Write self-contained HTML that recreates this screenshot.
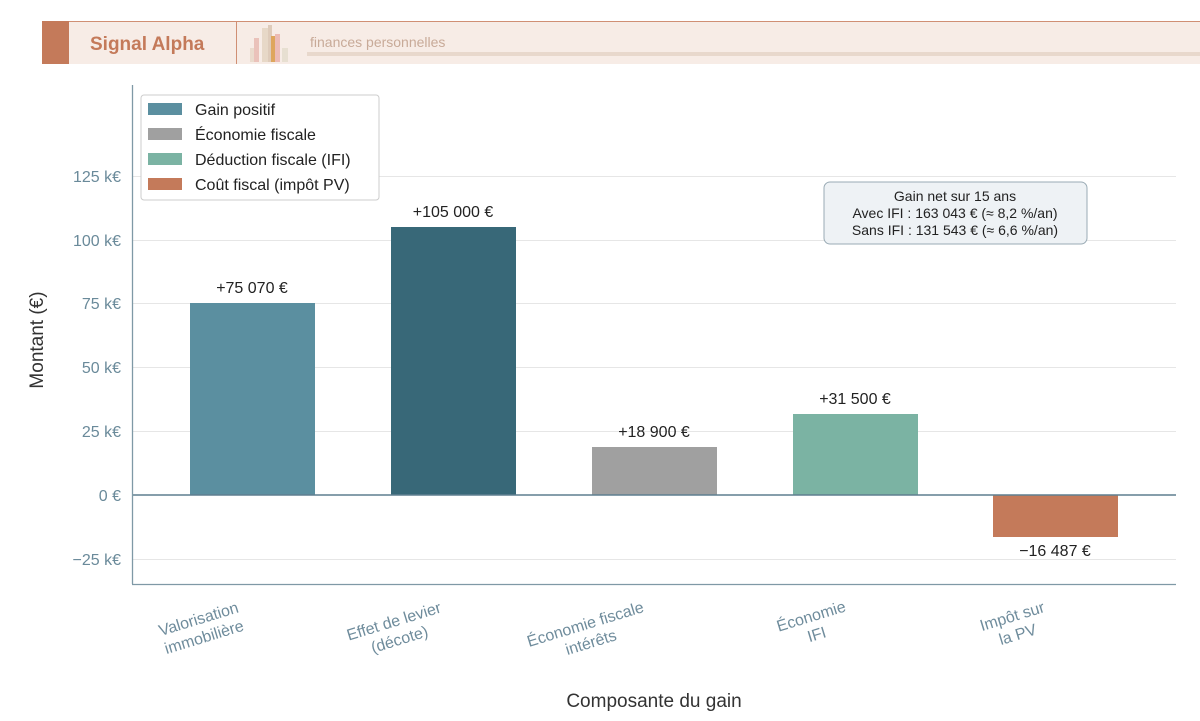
<!DOCTYPE html>
<html><head><meta charset="utf-8"><style>
body{margin:0;background:#fff;}
svg{display:block;font-family:"Liberation Sans",sans-serif;}
</style></head><body>
<svg width="1200" height="721" viewBox="0 0 1200 721" xmlns="http://www.w3.org/2000/svg">
<rect x="42" y="21" width="1158" height="43" fill="#f7ece6"/>
<line x1="42" y1="21.5" x2="1200" y2="21.5" stroke="#d08f74" stroke-width="1"/>
<rect x="42" y="21" width="27" height="43" fill="#c47a5a"/>
<line x1="236.5" y1="21" x2="236.5" y2="64" stroke="#d08f74"/>
<text x="90" y="50" font-size="19" font-weight="bold" fill="#c47a5a">Signal Alpha</text>
<g opacity="0.8">
<rect x="250" y="48" width="6" height="14" fill="#e8d8c8"/>
<rect x="254" y="38" width="5" height="24" fill="#e8b8b0"/>
<rect x="262" y="28" width="6" height="34" fill="#e4d4c0"/>
<rect x="268" y="25" width="4" height="37" fill="#d8c4b0"/>
<rect x="271" y="36" width="5" height="26" fill="#d8953c"/>
<rect x="275" y="34" width="5" height="28" fill="#eab0a8"/>
<rect x="282" y="48" width="6" height="14" fill="#e4dccc"/>
</g>
<text x="310" y="47" font-size="14" fill="#c8aa98">finances personnelles</text>
<rect x="307" y="52" width="893" height="4" fill="#e8d8cc"/>

<g stroke="#e6e6e6" stroke-width="1">
<line x1="132" y1="176.5" x2="1176" y2="176.5"/>
<line x1="132" y1="240.5" x2="1176" y2="240.5"/>
<line x1="132" y1="303.5" x2="1176" y2="303.5"/>
<line x1="132" y1="367.5" x2="1176" y2="367.5"/>
<line x1="132" y1="431.5" x2="1176" y2="431.5"/>
<line x1="132" y1="559.5" x2="1176" y2="559.5"/>
</g>
<rect x="190" y="303" width="125" height="192" fill="#5b8fa0"/>
<rect x="391" y="227" width="125" height="268" fill="#386878"/>
<rect x="592" y="447" width="125" height="48" fill="#a0a0a0"/>
<rect x="793" y="414" width="125" height="81" fill="#7bb3a3"/>
<rect x="993" y="495" width="125" height="42" fill="#c47a5a"/>
<line x1="132" y1="495" x2="1176" y2="495" stroke="#5f7f8f" stroke-width="1.5"/>
<line x1="132.5" y1="85" x2="132.5" y2="584" stroke="#7f99a6" stroke-width="1.3"/>
<line x1="132" y1="584.5" x2="1176" y2="584.5" stroke="#7f99a6" stroke-width="1.3"/>
<g font-size="16" fill="#6a8a9a" text-anchor="end">
<text x="121" y="182">125 k€</text>
<text x="121" y="246">100 k€</text>
<text x="121" y="309">75 k€</text>
<text x="121" y="373">50 k€</text>
<text x="121" y="437">25 k€</text>
<text x="121" y="501">0 €</text>
<text x="121" y="565">−25 k€</text>
</g>
<g font-size="16" fill="#222" text-anchor="middle">
<text x="252" y="293">+75 070 €</text>
<text x="453" y="217">+105 000 €</text>
<text x="654" y="437">+18 900 €</text>
<text x="855" y="404">+31 500 €</text>
<text x="1055" y="556">−16 487 €</text>
</g>
<g font-size="16" fill="#6f8c9c" text-anchor="middle">
<g transform="translate(246,610) rotate(-17)"><text x="-48" y="0">Valorisation</text><text x="-48" y="19">immobilière</text></g>
<g transform="translate(449,610) rotate(-17)"><text x="-56" y="0">Effet de levier</text><text x="-56" y="19">(décote)</text></g>
<g transform="translate(650,610) rotate(-17)"><text x="-66" y="0">Économie fiscale</text><text x="-66" y="19">intérêts</text></g>
<g transform="translate(850,610) rotate(-17)"><text x="-39" y="0">Économie</text><text x="-39" y="19">IFI</text></g>
<g transform="translate(1051,610) rotate(-17)"><text x="-39" y="0">Impôt sur</text><text x="-39" y="19">la PV</text></g>
</g>
<text x="654" y="707" font-size="19" fill="#333" text-anchor="middle">Composante du gain</text>
<text transform="translate(43,340) rotate(-90)" font-size="19" fill="#333" text-anchor="middle">Montant (€)</text>
<rect x="141" y="95" width="238" height="105" rx="3" fill="#fff" stroke="#cccccc"/>
<rect x="148" y="103" width="34" height="12" fill="#5b8fa0"/>
<rect x="148" y="128" width="34" height="12" fill="#a0a0a0"/>
<rect x="148" y="153" width="34" height="12" fill="#7bb3a3"/>
<rect x="148" y="178" width="34" height="12" fill="#c47a5a"/>
<g font-size="16" fill="#222">
<text x="195" y="115">Gain positif</text>
<text x="195" y="140">Économie fiscale</text>
<text x="195" y="165">Déduction fiscale (IFI)</text>
<text x="195" y="190">Coût fiscal (impôt PV)</text>
</g>
<rect x="824" y="182" width="263" height="62" rx="6" fill="#eef2f5" stroke="#9aabb5"/>
<g font-size="14" fill="#222" text-anchor="middle" style="white-space:pre">
<text x="955" y="201">Gain net sur 15 ans</text>
<text x="955" y="218">Avec IFI :  163 043 €  (≈ 8,2 %/an)</text>
<text x="955" y="235">Sans IFI :  131 543 €  (≈ 6,6 %/an)</text>
</g>
</svg>
</body></html>
